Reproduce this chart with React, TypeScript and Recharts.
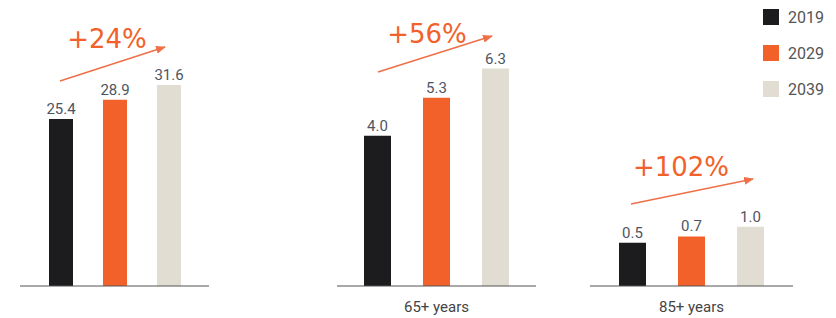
import { BarChart, Bar, XAxis, YAxis, LabelList } from 'recharts'

const YEARS = ['2019', '2029', '2039']
const COLORS = ['#1c1b1d', '#f2612a', '#e1ddd3']

const CATEGORIES = ['', '65+ years', '85+ years']
const VALUES_2019 = [25.4, 4.0, 0.5]
const VALUES_2029 = [28.9, 5.3, 0.7]
const VALUES_2039 = [31.6, 6.3, 1.0]
const GROWTH = ['+24%', '+56%', '+102%']

// each panel has its own scale; bars start from the bottom of the domain
const PANELS = [
  { left: 20, width: 189, barSize: 24, barGap: 30, domain: [-5.05, 39.82] },
  { left: 337, width: 199, barSize: 27, barGap: 32, domain: [-1.152, 7.28] },
  { left: 590, width: 203, barSize: 27, barGap: 32, domain: [-0.857, 6.867] },
]

const ARROWS = [
  { x1: 60, y1: 81, x2: 165, y2: 47, tx: 107, ty: 48 },
  { x1: 378, y1: 72, x2: 492, y2: 36, tx: 427, ty: 43 },
  { x1: 631, y1: 204, x2: 753, y2: 179, tx: 681, ty: 176 },
]

const SERIES = [VALUES_2019, VALUES_2029, VALUES_2039]

const labelStyle = { fontSize: 15, fill: '#4e5562', fontFamily: 'Roboto' }

function Panel({ index }: { index: number }) {
  const p = PANELS[index]
  const base = p.domain[0]
  const row: Record<string, any> = { cat: CATEGORIES[index] }
  YEARS.forEach((y, i) => { row['y' + y] = SERIES[i][index] })
  const data = [row]

  return (
    <div style={{ position: 'absolute', left: p.left, top: 0 }}>
      <BarChart
        width={p.width}
        height={318}
        data={data}
        barSize={p.barSize}
        barGap={p.barGap}
        margin={{ top: 40, right: 0, bottom: 0, left: 0 }}
      >
        <XAxis
          dataKey="cat"
          height={32}
          axisLine={{ stroke: '#555', strokeWidth: 1.2 }}
          tickLine={false}
          tickMargin={9}
          tick={{ fontSize: 15, fill: '#444', fontFamily: 'Roboto' }}
        />
        <YAxis hide type="number" domain={p.domain} allowDataOverflow />
        {YEARS.map((y, i) => (
          <Bar
            key={y}
            name={y}
            dataKey={(d: any) => [base, d['y' + y]]}
            fill={COLORS[i]}
            isAnimationActive={false}
          >
            <LabelList
              position="top"
              offset={5}
              style={labelStyle}
              formatter={(v: any) => Number(Array.isArray(v) ? v[1] : v).toFixed(1)}
            />
          </Bar>
        ))}
      </BarChart>
    </div>
  )
}

export default function App() {
  return (
    <div style={{ position: 'absolute', left: 0, top: 0, width: 836, height: 318, background: '#fff' }}>
      {PANELS.map((_, i) => <Panel key={i} index={i} />)}

      <svg width={836} height={318} style={{ position: 'absolute', left: 0, top: 0, pointerEvents: 'none' }}>
        <defs>
          <marker id="head" markerWidth="10" markerHeight="8" refX="9" refY="4" orient="auto" markerUnits="userSpaceOnUse">
            <path d="M0,0 L10,4 L0,8 Z" fill="#ef7048" />
          </marker>
        </defs>
        {ARROWS.map((a, i) => (
          <g key={i}>
            <line x1={a.x1} y1={a.y1} x2={a.x2} y2={a.y2} stroke="#ef7048" strokeWidth={1.5} markerEnd="url(#head)" />
            <text x={a.tx} y={a.ty} textAnchor="middle" fill="#f2612a" fontSize={26} fontFamily="DejaVu Sans">
              {GROWTH[i]}
            </text>
          </g>
        ))}
      </svg>

      <div style={{ position: 'absolute', left: 763, top: 9, fontFamily: 'Roboto', fontSize: 16, color: '#555' }}>
        {YEARS.map((y, i) => (
          <div key={y} style={{ display: 'flex', alignItems: 'center', height: 16, marginBottom: 20 }}>
            <span style={{ width: 16, height: 16, background: COLORS[i], display: 'inline-block', marginRight: 9 }} />
            <span>{y}</span>
          </div>
        ))}
      </div>
    </div>
  )
}
